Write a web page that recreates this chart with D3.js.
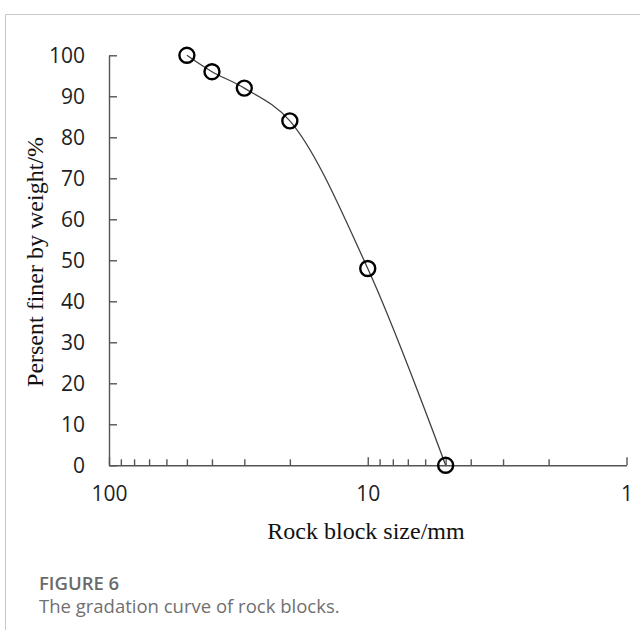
<!DOCTYPE html>
<html>
<head>
<meta charset="utf-8">
<script src="https://cdn.jsdelivr.net/npm/d3@7/dist/d3.min.js"></script>
<style>
  html, body { margin: 0; padding: 0; background: #fff; }
  svg { display: block; }
</style>
</head>
<body>
<svg id="chart" width="640" height="630"></svg>
<script>
// Rock block gradation data (particle size in mm vs. percent finer by weight)
const blockSizes = [50, 40, 30, 20, 10, 5];
const percentFiner = [100, 96, 92, 84, 48, 0];

// Axis ticks
const xMajorTicks = [100, 10, 1];
const xMinorTicks = [90, 80, 70, 60, 50, 40, 30, 20, 9, 8, 7, 6, 5, 4, 3, 2];
const yTicks = [0, 10, 20, 30, 40, 50, 60, 70, 80, 90, 100];

const xTitle = "Rock block size/mm";
const yTitle = "Persent finer by weight/%";
const figureLabel = "FIGURE 6";
const figureCaption = "The gradation curve of rock blocks.";

const svg = d3.select("#chart");

// Card frame (top and left rules)
svg.append("line").attr("x1", 5.5).attr("x2", 640).attr("y1", 14.5).attr("y2", 14.5)
  .attr("stroke", "#c8c8c8").attr("stroke-width", 1);
svg.append("line").attr("x1", 5.5).attr("x2", 5.5).attr("y1", 14.5).attr("y2", 630)
  .attr("stroke", "#c8c8c8").attr("stroke-width", 1);

// Scales: size axis is logarithmic and runs from coarse (left) to fine (right)
const x = d3.scaleLog().domain([100, 1]).range([109, 626.5]);
const y = d3.scaleLinear().domain([0, 100]).range([465.3, 55.3]);

const axisColor = "#555";
const labelFont = "'Open Sans', sans-serif";

// X axis: inward ticks, only decades labelled
const xAxis = d3.axisBottom(x)
  .tickValues(xMajorTicks.concat(xMinorTicks))
  .tickSizeInner(-6)
  .tickSizeOuter(0)
  .tickPadding(21)
  .tickFormat(d => xMajorTicks.includes(d) ? d3.format("d")(d) : "");

const gx = svg.append("g")
  .attr("transform", `translate(0,${y(0)})`)
  .call(xAxis);
gx.selectAll(".tick line")
  .attr("y2", d => xMajorTicks.includes(d) ? -8 : -6);

// Y axis: inward ticks
const yAxis = d3.axisLeft(y)
  .tickValues(yTicks)
  .tickSizeInner(-8)
  .tickSizeOuter(0)
  .tickPadding(24);

const gy = svg.append("g")
  .attr("transform", `translate(${x(100)},0)`)
  .call(yAxis);

[gx, gy].forEach(g => {
  g.select(".domain").attr("stroke", axisColor).attr("stroke-width", 1.4);
  g.selectAll(".tick line").attr("stroke", axisColor).attr("stroke-width", 1.4);
  g.selectAll(".tick text")
    .attr("fill", "#1e1e1e")
    .style("font-family", labelFont)
    .style("font-size", "21px");
});

// Axis titles
svg.append("text")
  .attr("x", 366).attr("y", 539)
  .attr("text-anchor", "middle")
  .style("font-family", "'Liberation Serif', 'Times New Roman', serif")
  .style("font-size", "24px")
  .attr("fill", "#111")
  .text(xTitle);

svg.append("text")
  .attr("transform", "translate(43,262) rotate(-90)")
  .attr("text-anchor", "middle")
  .style("font-family", "'Liberation Serif', 'Times New Roman', serif")
  .style("font-size", "24px")
  .attr("fill", "#111")
  .text(yTitle);

// Gradation curve (smoothed)
const points = blockSizes.map((s, i) => ({ size: s, pct: percentFiner[i] }));

const line = d3.line()
  .x(d => x(d.size))
  .y(d => y(d.pct))
  .curve(d3.curveCatmullRom.alpha(0.5));

svg.append("path")
  .datum(points)
  .attr("d", line)
  .attr("fill", "none")
  .attr("stroke", "#404040")
  .attr("stroke-width", 1.3);

// Sample markers
svg.append("g")
  .selectAll("circle")
  .data(points)
  .join("circle")
  .attr("cx", d => x(d.size))
  .attr("cy", d => y(d.pct))
  .attr("r", 7.5)
  .attr("fill", "none")
  .attr("stroke", "#000")
  .attr("stroke-width", 2.4);

// Figure caption
svg.append("text")
  .attr("x", 39).attr("y", 590)
  .style("font-family", labelFont)
  .style("font-size", "18.5px")
  .style("font-weight", 600)
  .attr("fill", "#6b6b6b")
  .text(figureLabel);

svg.append("text")
  .attr("x", 39).attr("y", 613)
  .style("font-family", labelFont)
  .style("font-size", "18.5px")
  .attr("fill", "#707070")
  .text(figureCaption);
</script>
</body>
</html>
